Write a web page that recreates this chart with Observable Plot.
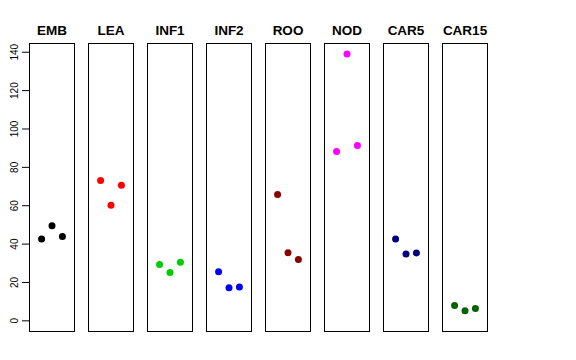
<!DOCTYPE html>
<html>
<head>
<meta charset="utf-8">
<script src="https://cdn.jsdelivr.net/npm/d3@7"></script>
<script src="https://cdn.jsdelivr.net/npm/@observablehq/plot@0.6"></script>
<style>
  html, body { margin: 0; padding: 0; background: #fff; }
  svg { display: block; }
</style>
</head>
<body>
<div id="chart"></div>
<script>
const panels = ["EMB", "LEA", "INF1", "INF2", "ROO", "NOD", "CAR5", "CAR15"];
const colors = ["#000000", "#FF0000", "#00CD00", "#0000FF", "#8B0000", "#FF00FF", "#000080", "#006400"];
const values = [
  [42.7, 49.6, 43.9],
  [73.1, 60.2, 70.7],
  [29.3, 25.2, 30.5],
  [25.6, 17.2, 17.6],
  [65.8, 35.5, 32.0],
  [88.3, 139.1, 91.4],
  [42.7, 34.8, 35.4],
  [8.0, 5.2, 6.4]
];
const yTicks = [0, 20, 40, 60, 80, 100, 120, 140];

const data = [];
panels.forEach((p, i) => {
  values[i].forEach((v, j) => data.push({panel: p, rep: j + 1, value: v, color: colors[i]}));
});

const chart = Plot.plot({
  width: 576,
  height: 360,
  marginLeft: 29,
  marginRight: 88,
  marginTop: 43,
  marginBottom: 29,
  style: {fontFamily: "'Liberation Sans', Arial, Helvetica, sans-serif", background: "#fff"},
  fx: {domain: panels, paddingInner: 0.237, paddingOuter: 0, label: null},
  x: {domain: [-0.16, 4.16], axis: null},
  y: {domain: [-5.56, 144.56], label: null},
  marks: [
    Plot.frame({stroke: "#000", strokeWidth: 1}),
    Plot.axisFx({anchor: "top", tickSize: 0, tickPadding: 9, fontSize: 13.5, fontWeight: "bold", label: null, fill: "#000"}),
    Plot.axisY({ticks: yTicks, tickSize: 7, tickPadding: 4.5, tickRotate: -90, fontSize: 10, label: null, stroke: "#000", fill: "#000"}),
    Plot.dot(data, {fx: "panel", x: "rep", y: "value", r: 3.5, fill: "color", stroke: null})
  ]
});
document.getElementById("chart").appendChild(chart);
</script>
</body>
</html>
